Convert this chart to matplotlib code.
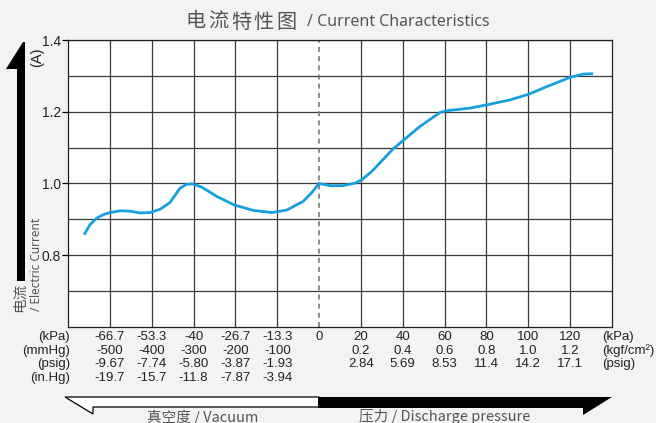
import numpy as np
import matplotlib.pyplot as plt
from matplotlib.patches import Polygon
from matplotlib.transforms import blended_transform_factory

W, H = 656, 423

# curve: pressure (kPa) vs current (A)
kpa = [-74.9, -73.0, -70.9, -68.8, -66.6, -63.4, -60.2, -57.1, -53.9, -50.7,
       -47.5, -44.3, -42.2, -40.3, -37.4, -32.6, -27.0, -20.9, -15.1, -10.3,
       -5.1, -2.3, 0.0, 5.2, 11.4, 17.2, 20.3, 25.1, 35.3, 48.2, 57.8, 61.1,
       72.0, 80.0, 91.2, 100.3, 108.8, 120.0, 126.3, 131.0]
amps = [0.857, 0.885, 0.903, 0.913, 0.919, 0.924, 0.923, 0.918, 0.919, 0.928,
        0.947, 0.987, 0.998, 0.999, 0.990, 0.964, 0.940, 0.925, 0.919, 0.926,
        0.950, 0.975, 1.000, 0.994, 0.994, 1.001, 1.010, 1.033, 1.096, 1.159,
        1.198, 1.203, 1.210, 1.219, 1.233, 1.249, 1.270, 1.296, 1.305, 1.306]

# tick tables under the chart
vac_kpa = [-66.7, -53.3, -40, -26.7, -13.3]
vac_kpa_lbl = ['-66.7', '-53.3', '-40', '-26.7', '-13.3']
vac_mmhg = ['-500', '-400', '-300', '-200', '-100']
vac_psig = ['-9.67', '-7.74', '-5.80', '-3.87', '-1.93']
vac_inhg = ['-19.7', '-15.7', '-11.8', '-7.87', '-3.94']
vac_units = ['(kPa)', '(mmHg)', '(psig)', '(in.Hg)']

pr_kpa = [20, 40, 60, 80, 100, 120]
pr_kgf = ['0.2', '0.4', '0.6', '0.8', '1.0', '1.2']
pr_psig = ['2.84', '5.69', '8.53', '11.4', '14.2', '17.1']
pr_units = ['(kPa)', '(kgf/cm²)', '(psig)']

y_ticks = [0.8, 1.0, 1.2, 1.4]
y_minor = [0.7, 0.9, 1.1, 1.3]


def fwd(x):
    x = np.asarray(x, float)
    return np.where(x < 0, x / (40 / 3), x / 20)


def inv(p):
    p = np.asarray(p, float)
    return np.where(p < 0, p * (40 / 3), p * 20)


def fx(px):
    return px / W


def fy(py):
    return 1 - py / H


def fig_poly(pts, **kw):
    # polygon given in pixel coords (top-left origin)
    p = Polygon([(fx(a), fy(b)) for a, b in pts], closed=True,
                transform=fig.transFigure, **kw)
    fig.add_artist(p)


fig = plt.figure(figsize=(W / 100, H / 100), dpi=100)
fig.patch.set_facecolor('#f3f3f3')
ax = fig.add_axes([fx(68), fy(327), 544 / W, 287 / H])
ax.set_facecolor('white')

ax.set_xscale('function', functions=(fwd, inv))
ax.set_xlim(-80, 140)
ax.set_ylim(0.6, 1.4)

ax.set_xticks(vac_kpa + pr_kpa)
ax.set_xticklabels([])
ax.tick_params(axis='x', length=0)
ax.set_yticks(y_ticks)
ax.set_yticklabels(['%.1f' % v for v in y_ticks], fontsize=10,
                   family='Liberation Sans', color='#222222')
ax.set_yticks(y_minor, minor=True)
ax.tick_params(axis='y', which='major', length=4, width=0.9, pad=1)
ax.tick_params(axis='y', which='minor', length=0)
ax.grid(True, which='both', color='#3a3a3a', lw=0.9)
ax.axvline(0, color='#777777', lw=1.2, ls=(0, (3, 2.5)), zorder=2)
for s in ax.spines.values():
    s.set_color('#222222')
    s.set_linewidth(0.9)

ax.plot(kpa, amps, color='#16a0e0', lw=2.0, solid_joinstyle='round',
        solid_capstyle='butt', zorder=3)

# tables
tr = blended_transform_factory(ax.transData, fig.transFigure)
tf = dict(fontsize=9.5, family='Liberation Sans', color='#222222', va='center')
rows = [337, 351, 364, 378]
for u, r in zip(vac_units, rows):
    fig.text(fx(70), fy(r), u, ha='right', **tf)
for vals, r in zip([vac_kpa_lbl, vac_mmhg, vac_psig, vac_inhg], rows):
    for x, s in zip(vac_kpa, vals):
        ax.text(x, fy(r), s, transform=tr, ha='center', **tf)
ax.text(0, fy(337), '0', transform=tr, ha='center', **tf)
for vals, r in zip([[str(v) for v in pr_kpa], pr_kgf, pr_psig], rows):
    for x, s in zip(pr_kpa, vals):
        ax.text(x, fy(r), s, transform=tr, ha='center', **tf)
for u, r in zip(pr_units, rows):
    fig.text(fx(602), fy(r), u, ha='left', **tf)

# title
title_c = '#555555'
for i, ch in enumerate('电流特性图'):
    fig.text(fx(196 + i * 22.6), fy(22), ch, ha='center', va='center',
             fontsize=14.5, family='Noto Sans CJK SC', color=title_c)
fig.text(fx(307), fy(22), '/ Current Characteristics', ha='left', va='center',
         fontsize=11.5, family='Noto Sans', color=title_c)

# y axis arrow and label
fig_poly([(17, 281), (17, 69), (6, 69), (23, 42), (25, 42), (25, 281)],
         facecolor='black', edgecolor='none')
fig.text(fx(37), fy(57), '(A)', rotation=90, ha='center', va='center',
         fontsize=10.5, family='Liberation Sans', color='#222222')
fig.text(fx(20), fy(312), '电流', rotation=90, ha='center', va='bottom',
         fontsize=10.5, family='Noto Sans CJK SC', color='#555555')
fig.text(fx(36), fy(311), '/ Electric Current', rotation=90, ha='center',
         va='bottom', fontsize=8.5, family='Noto Sans', color='#555555')

# bottom arrows
fig_poly([(319, 397), (65, 397), (93, 414), (93, 407), (319, 407)],
         facecolor='white', edgecolor='black', lw=0.9)
fig_poly([(318, 397), (612, 397), (583, 415), (583, 408), (318, 408)],
         facecolor='black', edgecolor='none')
fig.text(fx(203), fy(409), '真空度 / Vacuum', ha='center', va='top',
         fontsize=10.5, family=['Noto Sans CJK SC', 'DejaVu Sans'],
         color='#555555')
fig.text(fx(445), fy(409), '压力 / Discharge pressure', ha='center', va='top',
         fontsize=10.5, family=['Noto Sans CJK SC', 'DejaVu Sans'],
         color='#555555')

fig.savefig('out.png', dpi=100, facecolor=fig.get_facecolor())
